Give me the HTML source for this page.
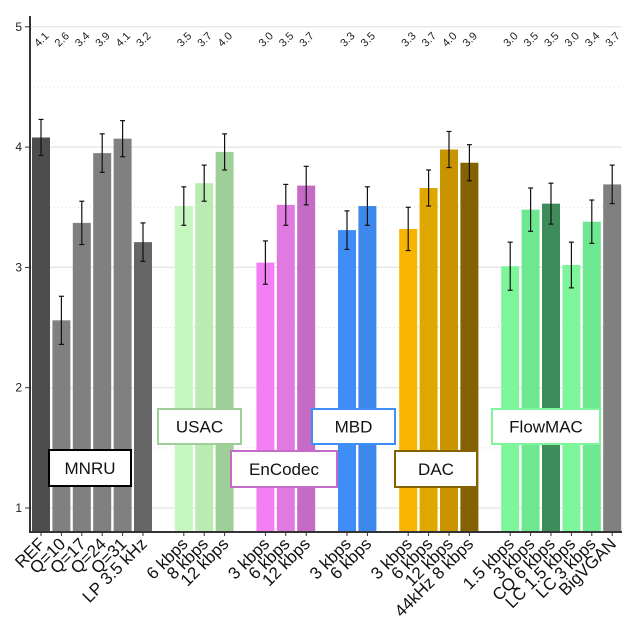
<!DOCTYPE html>
<html><head><meta charset="utf-8"><style>
body{margin:0;background:#fff}
svg{display:block;font-family:"Liberation Sans",sans-serif}
</style></head><body>
<svg id="chart" width="636" height="638"></svg>
<script>
const categories=["REF","Q=10","Q=17","Q=24","Q=31","LP 3.5 kHz","6 kbps","8 kbps","12 kbps","3 kbps","6 kbps","12 kbps","3 kbps","6 kbps","3 kbps","6 kbps","12 kbps","44kHz 8 kbps","1.5 kbps","3 kbps","CQ 6 kbps","LC 1.5 kbps","LC 3 kbps","BigVGAN"];
const slots=[0,1,2,3,4,5,7,8,9,11,12,13,15,16,18,19,20,21,23,24,25,26,27,28];
const means=[4.08,2.56,3.37,3.95,4.07,3.21,3.51,3.70,3.96,3.04,3.52,3.68,3.31,3.51,3.32,3.66,3.98,3.87,3.01,3.48,3.53,3.02,3.38,3.69];
const errs=[0.15,0.20,0.18,0.16,0.15,0.16,0.16,0.15,0.15,0.18,0.17,0.16,0.16,0.16,0.18,0.15,0.15,0.15,0.20,0.18,0.17,0.19,0.18,0.16];
const labels=["4.1","2.6","3.4","3.9","4.1","3.2","3.5","3.7","4.0","3.0","3.5","3.7","3.3","3.5","3.3","3.7","4.0","3.9","3.0","3.5","3.5","3.0","3.4","3.7"];
const colors=["#4d4d4d","#808080","#808080","#808080","#808080","#666666","#c6f7c0","#b9ebb2","#9fcf98","#f47ff4","#e07ae0","#c56bc5","#3f8ef7","#3d88ea","#f7b500","#e0a700","#c99400","#856200","#7ef59a","#6ee890","#3e8c59","#7ef59a","#6ee890","#808080"];
const yTicks=[1,2,3,4,5];
const groups=[
 {name:"MNRU",x:49,y:450,w:82,h:36,c:"#000"},
 {name:"USAC",x:158,y:409,w:83,h:35,c:"#9fcf98"},
 {name:"EnCodec",x:231,y:451,w:106,h:36,c:"#c56bc5"},
 {name:"MBD",x:312,y:409,w:83,h:35,c:"#3f8ef7"},
 {name:"DAC",x:395,y:451,w:82,h:36,c:"#856200"},
 {name:"FlowMAC",x:492,y:409,w:108,h:35,c:"#7ef59a"}
];
const svg=document.getElementById('chart');
const NS="http://www.w3.org/2000/svg";
function mk(t,a,p){const e=document.createElementNS(NS,t);for(const k in a)e.setAttribute(k,a[k]);(p||svg).appendChild(e);return e;}
const y=v=>508-(v-1)*120.3;
const x0=32,step=20.4,bw=18;
const xs=s=>x0+s*step;
for(let v=1;v<=5;v+=0.5){
 const g=mk('line',{x1:30,x2:622,y1:y(v),y2:y(v),stroke:v%1?'#d8d8d8':'#e3e3e3','stroke-width':v%1?1:1.2,'stroke-dasharray':v%1?'1,3':''});
 
 
}
yTicks.forEach(v=>{
 const t=mk('text',{x:22,y:y(v)+4,'font-size':12,'text-anchor':'end',fill:'#222'});t.textContent=v;
 
 
 mk('line',{x1:25,x2:30,y1:y(v),y2:y(v),stroke:'#333'});
});
categories.forEach((c,i)=>{
 const bx=xs(slots[i]);
 const r=mk('rect',{x:bx,y:y(means[i]),width:bw,height:532-y(means[i]),fill:colors[i]});
 
 
 const cx=bx+bw/2,t=y(means[i]+errs[i]),b=y(means[i]-errs[i]);
 const eb=mk('g',{stroke:'#111','stroke-width':1.2});
 
 
 mk('line',{x1:cx,x2:cx,y1:t,y2:b},eb);
 mk('line',{x1:cx-2.5,x2:cx+2.5,y1:t,y2:t},eb);
 mk('line',{x1:cx-2.5,x2:cx+2.5,y1:b,y2:b},eb);
 const vl=mk('text',{x:cx+3,y:42,'font-size':11,'text-anchor':'middle',fill:'#222',transform:`rotate(-45 ${cx+3} 42)`});
 vl.textContent=labels[i];
 
 
 mk('line',{x1:cx,x2:cx,y1:532,y2:536,stroke:'#333'});
 const xl=mk('text',{x:cx+5,y:545,'font-size':17,'text-anchor':'end',fill:'#111',transform:`rotate(-45 ${cx+5} 545)`});
 xl.textContent=c;
 
 
});
mk('line',{x1:30,x2:30,y1:16,y2:533,stroke:'#333','stroke-width':2});
mk('line',{x1:29,x2:622,y1:532,y2:532,stroke:'#333','stroke-width':2});
groups.forEach(g=>{
 const gr=mk('g',{});
 
 
 mk('rect',{x:g.x,y:g.y,width:g.w,height:g.h,fill:'#fff',stroke:g.c,'stroke-width':2},gr);
 const t=mk('text',{x:g.x+g.w/2,y:g.y+g.h/2+6,'font-size':17,'text-anchor':'middle',fill:'#111'},gr);
 t.textContent=g.name;
});
</script>
</body></html>
